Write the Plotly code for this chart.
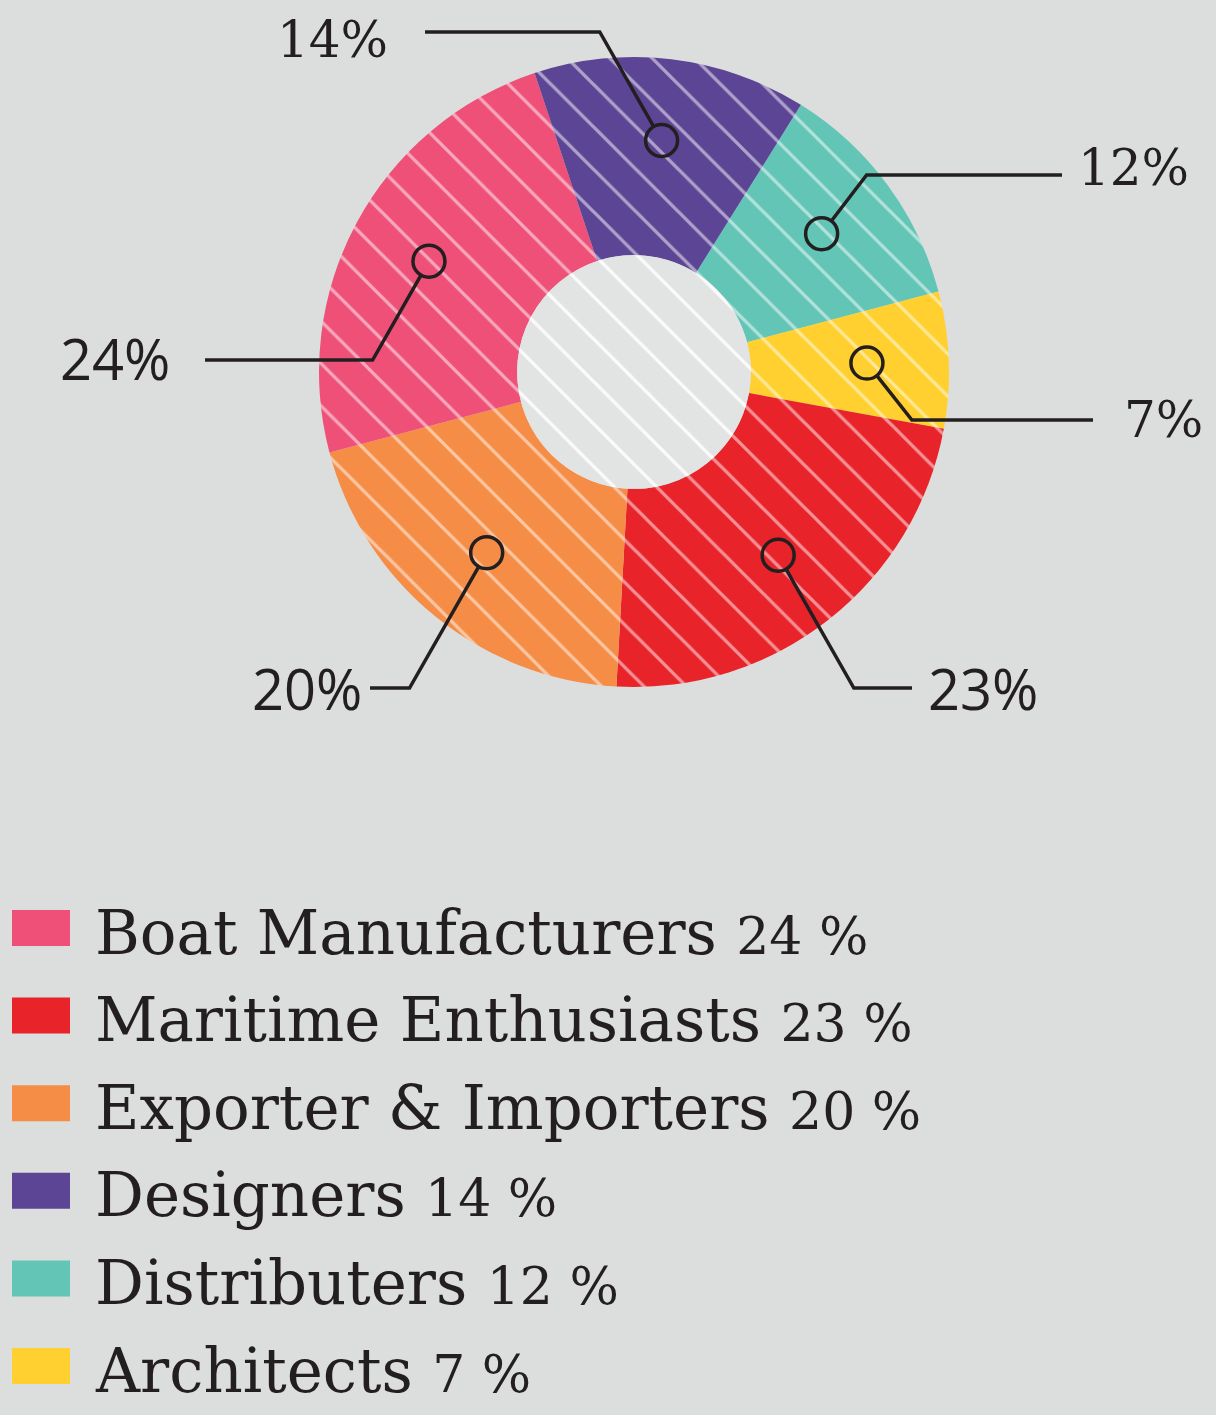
import math
import plotly.graph_objects as go

# ---------------- data ----------------
categories = ["Boat Manufacturers", "Maritime Enthusiasts", "Exporter & Importers",
              "Designers", "Distributers", "Architects"]
shares = [24, 23, 20, 14, 12, 7]
colors = ["#EE5078", "#E8232A", "#F58D46", "#5C4595", "#63C5B6", "#FFD02F"]
# clockwise drawing order of the slices (starting with Distributers)
pie_order = [4, 5, 1, 2, 0, 3]

# ---------------- layout constants ----------------
W, H = 1216, 1415
BG = "#dcdddd"
INK = "#231f20"
CX, CY, R = 634, 372, 315
HOLE = 0.371
ROTATION = 32  # degrees clockwise from 12 o'clock where first slice starts


def px(x):
    return x / W


def py(y):
    return 1 - y / H


# callout label placement (per category index)
callouts = {
    3: dict(tx=390, ty=40, anchor="right", font="DejaVu Serif", size=50, side=-1, ly=32, lend=425),
    4: dict(tx=1076, ty=168, anchor="left", font="DejaVu Serif", size=50, side=1, ly=175, lend=1062),
    0: dict(tx=172, ty=358, anchor="right", font="Open Sans", size=56, side=-1, ly=360, lend=205),
    5: dict(tx=1122, ty=420, anchor="left", font="DejaVu Serif", size=50, side=1, ly=420, lend=1093),
    2: dict(tx=364, ty=688, anchor="right", font="Open Sans", size=56, side=-1, ly=688, lend=370),
    1: dict(tx=926, ty=688, anchor="left", font="Open Sans", size=56, side=1, ly=688, lend=912),
}

fig = go.Figure()

dom = dict(x=[px(CX - R), px(CX + R)], y=[py(CY + R), py(CY - R)])
slice_colors = [colors[i] for i in pie_order]

fig.add_trace(go.Pie(
    values=[shares[i] for i in pie_order],
    labels=[categories[i] for i in pie_order],
    marker=dict(colors=slice_colors,
                pattern=dict(shape="\\", bgcolor=slice_colors, fgcolor="white",
                             fgopacity=0.5, size=30, solidity=0.11),
                line=dict(width=0)),
    hole=HOLE, sort=False, direction="clockwise", rotation=ROTATION,
    textinfo="none", hoverinfo="label+percent", domain=dom, showlegend=False,
))

# striped disc filling the hole (own, smaller domain)
RH = R * HOLE
fig.add_trace(go.Pie(
    values=[1], labels=["hole"], sort=False, hole=0, textinfo="none", hoverinfo="skip",
    marker=dict(colors=["#e2e3e3"],
                pattern=dict(shape="\\", bgcolor=["#e2e3e3"], fgcolor="white",
                             fgopacity=0.85, size=30, solidity=0.11),
                line=dict(width=0)),
    domain=dict(x=[px(CX - RH), px(CX + RH)], y=[py(CY + RH), py(CY - RH)]),
    showlegend=False,
))

shapes = []
annotations = []

# callouts computed from the slice angles
total = sum(shares)
cum = 0
RC = 0.74 * R
CR = 16
for idx in pie_order:
    v = shares[idx]
    mid = math.radians(ROTATION + (cum + v / 2) / total * 360)
    cum += v
    mx = CX + RC * math.sin(mid)
    my = CY - RC * math.cos(mid)
    c = callouts[idx]
    dy = c["ly"] - my
    ex = mx + c["side"] * max(abs(dy) * 0.57, 45)
    ey = c["ly"]
    ang = math.atan2(ey - my, ex - mx)
    sx = mx + CR * math.cos(ang)
    sy = my + CR * math.sin(ang)
    path = f"M {px(sx)},{py(sy)} L {px(ex)},{py(ey)} L {px(c['lend'])},{py(ey)}"
    shapes.append(dict(type="path", path=path, xref="paper", yref="paper",
                       line=dict(color=INK, width=3.5), layer="above"))
    shapes.append(dict(type="circle", xref="paper", yref="paper",
                       x0=px(mx - CR), x1=px(mx + CR), y0=py(my + CR), y1=py(my - CR),
                       line=dict(color=INK, width=3.5), fillcolor="rgba(0,0,0,0)", layer="above"))
    annotations.append(dict(text=f"{v}%", x=px(c["tx"]), y=py(c["ty"]), xref="paper", yref="paper",
                            xanchor=c["anchor"], yanchor="middle", showarrow=False,
                            font=dict(family=c["font"], size=c["size"], color=INK)))

# custom legend
LEG_Y0, LEG_STEP = 928, 87.6
for i, (cat, v, col) in enumerate(zip(categories, shares, colors)):
    yc = LEG_Y0 + i * LEG_STEP
    shapes.append(dict(type="rect", xref="paper", yref="paper",
                       x0=px(12), x1=px(70), y0=py(yc + 18), y1=py(yc - 18),
                       fillcolor=col, line=dict(width=0), layer="above"))
    annotations.append(dict(
        text=f"{cat} <span style='font-size:52px'>{v} %</span>",
        x=px(93), y=py(yc + 4), xref="paper", yref="paper",
        xanchor="left", yanchor="middle", showarrow=False,
        font=dict(family="DejaVu Serif", size=61, color=INK)))

fig.update_layout(
    width=W, height=H,
    margin=dict(l=0, r=0, t=0, b=0),
    paper_bgcolor=BG, plot_bgcolor=BG,
    shapes=shapes, annotations=annotations,
    showlegend=False,
)

fig.write_html("out.html", config={"displayModeBar": False},
               post_script="document.body.style.margin='0';document.body.style.padding='0';")
